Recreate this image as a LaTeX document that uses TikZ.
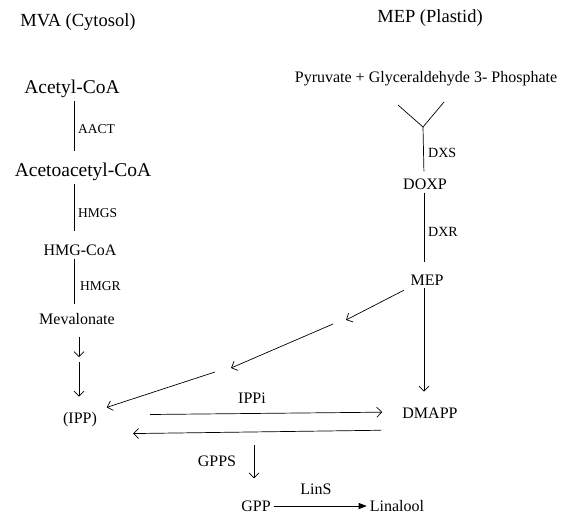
\documentclass[tikz,border=0pt]{standalone}
\usepackage{fontspec}
\setmainfont{Liberation Serif}
\usetikzlibrary{arrows.meta}

\begin{document}
\begin{tikzpicture}[x=1pt,y=-1pt,
	heading/.style={font=\fontsize{18.5}{22}\selectfont, inner sep=0pt},
	bigcompound/.style={font=\fontsize{19.5}{23}\selectfont, inner sep=3pt},
	compound/.style={font=\fontsize{16}{19}\selectfont, inner sep=3pt},
	enzyme/.style={font=\fontsize{13.5}{16}\selectfont, anchor=west, inner sep=0pt},
	label/.style={font=\fontsize{16}{19}\selectfont, inner sep=0pt},
	pathline/.style={line width=0.7pt},
	openarrow/.style={line width=0.7pt, -{Straight Barb[length=5pt,width=10pt]}},
	closedarrow/.style={line width=0.7pt, -{Triangle[length=8pt,width=6pt]}},
]

% frame %{{{2

	\useasboundingbox (0,0) rectangle (572,517);

% coordinates %{{{2

	\coordinate (mvaaxis) at (74,0);
	\coordinate (mepaxis) at (424,0);

	\coordinate (vl) at (398,105);
	\coordinate (vb) at (423,127);
	\coordinate (vr) at (444,102);

	\coordinate (mevgap1) at (79,357);
	\coordinate (mevgap2) at (79,362);

	\coordinate (b1) at (346,320);
	\coordinate (b2) at (333,324);
	\coordinate (b3) at (231,368);
	\coordinate (b4) at (215,372);

	\coordinate (gppstop) at (254,445);

% headings %{{{2

	\node[heading] (mvatitle) at (78,22) {MVA (Cytosol)};
	\node[heading] (meptitle) at (430,18) {MEP (Plastid)};

% compounds %{{{2

	\node[bigcompound] (acetyl) at (72,89) {Acetyl-CoA};
	\node[bigcompound] (acetoacetyl) at (83,172) {Acetoacetyl-CoA};
	\node[compound] (hmgcoa) at (80,250) {HMG-CoA};
	\node[compound] (mevalonate) at (77,319) {Mevalonate};
	\node[compound] (ipp) at (80,420) {(IPP)};

	\node[compound] (pyruvate) at (426,79) {Pyruvate + Glyceraldehyde 3- Phosphate};
	\node[compound] (doxp) at (425,184) {DOXP};
	\node[compound] (mep) at (427,280) {MEP};
	\node[compound] (dmapp) at (430,413) {DMAPP};

	\node[compound] (gpp) at (256,506) {GPP};
	\node[compound] (linalool) at (397,506) {Linalool};

% enzymes %{{{2

	\node[enzyme] (aact) at (78,129) {AACT};
	\node[enzyme] (hmgs) at (78,213) {HMGS};
	\node[enzyme] (hmgr) at (80,286) {HMGR};
	\node[enzyme, font=\fontsize{14}{17}\selectfont] (dxs) at (428,153) {DXS};
	\node[enzyme, font=\fontsize{14}{17}\selectfont] (dxr) at (428,232) {DXR};

	\node[label] (ippi) at (252,398) {IPPi};
	\node[label] (gpps) at (217,461) {GPPS};
	\node[label] (lins) at (316,489) {LinS};

% MVA pathway %{{{2

	\draw[pathline, shorten >=9pt] (acetyl.south -| mvaaxis) -- (acetoacetyl.north -| mvaaxis);
	\draw[pathline, shorten >=10pt] (acetoacetyl.south -| mvaaxis) -- (hmgcoa.north -| mvaaxis);
	\draw[pathline, shorten >=6pt] (hmgcoa.south -| mvaaxis) -- (mevalonate.north -| mvaaxis);

	\draw[openarrow, shorten <=9pt] (mevalonate.south -| mevgap1) -- (mevgap1);
	\draw[openarrow, shorten >=13pt] (mevgap2) -- (ipp.north -| mevgap2);

% MEP pathway %{{{2

	\draw[pathline] (vl) -- (vb) -- (vr);
	\draw[pathline, shorten >=4pt] (vb) -- (doxp.north -| mepaxis);
	\draw[pathline, shorten >=10pt] (doxp.south -| mepaxis) -- (mep.north -| mepaxis);
	\draw[openarrow, shorten >=13pt] (mep.south -| mepaxis) -- (dmapp.north -| mepaxis);

	\draw[openarrow, shorten <=4pt] (mep.south west) -- (b1);
	\draw[openarrow] (b2) -- (b3);
	\draw[openarrow, shorten >=7pt] (b4) -- (ipp.north east);

% IPP, DMAPP, GPP %{{{2

	\draw[openarrow, shorten <=50pt, shorten >=17pt] ([yshift=5pt]ipp.east) -- ([yshift=1pt]dmapp.west);
	\draw[openarrow, shorten <=18pt, shorten >=33pt] ([yshift=-17pt]dmapp.west) -- ([yshift=-14pt]ipp.east);

	\draw[openarrow, shorten >=19pt] (gppstop) -- (gpp.north -| gppstop);
	\draw[closedarrow] (gpp) -- (linalool);

% closing %{{{2

\end{tikzpicture}
\end{document}
